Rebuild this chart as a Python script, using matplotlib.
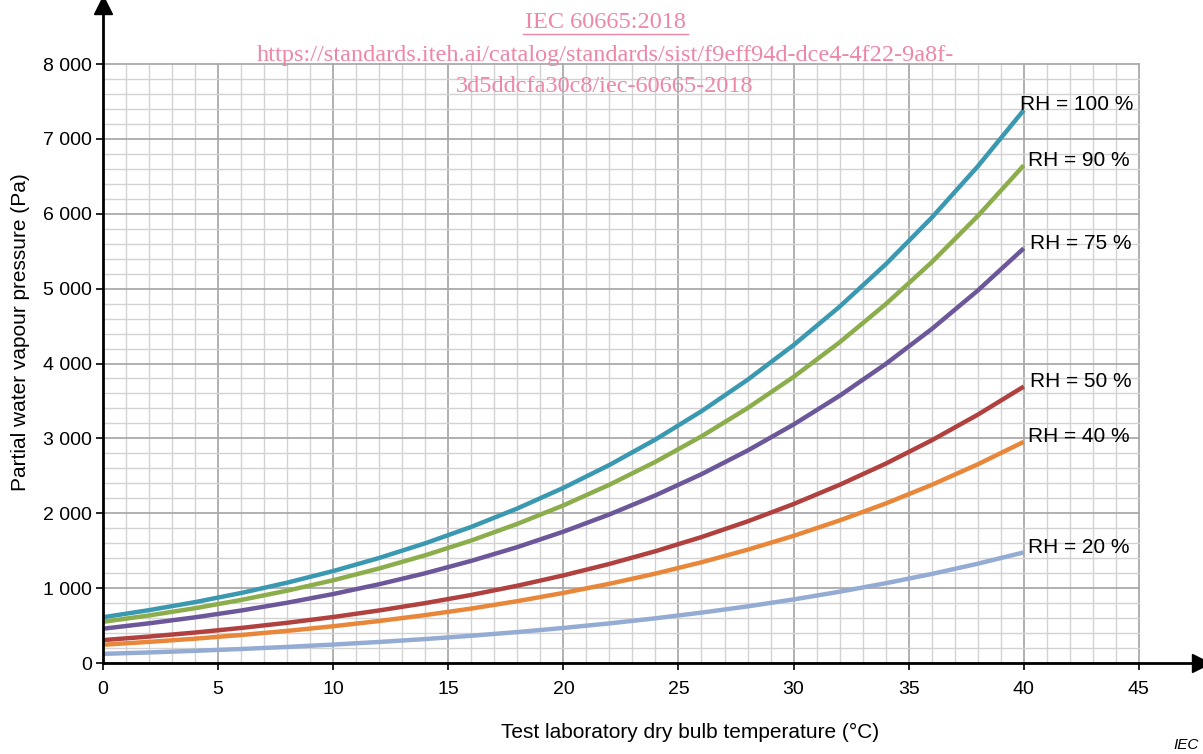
import numpy as np
import matplotlib.pyplot as plt
from matplotlib.ticker import FuncFormatter

# temperature (°C) and partial vapour pressure (Pa)
temp = [0, 2, 4, 6, 8, 10, 12, 14, 16, 18, 20, 22, 24, 26, 28, 30, 32, 34, 36, 38, 40]
rh100 = [611, 706, 813, 935, 1073, 1228, 1403, 1599, 1818, 2064, 2339, 2645, 2985, 3363, 3782, 4246, 4759, 5324, 5947, 6632, 7384]
rh90 = [550, 635, 732, 842, 966, 1105, 1263, 1439, 1636, 1858, 2105, 2381, 2687, 3027, 3404, 3821, 4283, 4792, 5352, 5969, 6646]
rh75 = [458, 530, 610, 701, 805, 921, 1052, 1199, 1364, 1548, 1754, 1984, 2239, 2522, 2837, 3185, 3569, 3993, 4460, 4974, 5538]
rh50 = [306, 353, 407, 468, 537, 614, 702, 800, 909, 1032, 1170, 1323, 1493, 1682, 1891, 2123, 2380, 2662, 2974, 3316, 3692]
rh40 = [244, 282, 325, 374, 429, 491, 561, 640, 727, 826, 936, 1058, 1194, 1345, 1513, 1698, 1904, 2130, 2379, 2653, 2954]
rh20 = [122, 141, 163, 187, 215, 246, 281, 320, 364, 413, 468, 529, 597, 673, 756, 849, 952, 1065, 1189, 1326, 1477]

series = [rh100, rh90, rh75, rh50, rh40, rh20]
labels = ['RH = 100 %', 'RH = 90 %', 'RH = 75 %', 'RH = 50 %', 'RH = 40 %', 'RH = 20 %']
colors = ['#3a98b1', '#8cad4b', '#6b5799', '#b0413f', '#e8873a', '#94abd4']
label_x = [39.85, 40.2, 40.25, 40.25, 40.2, 40.2]

plt.rcParams['font.family'] = ['Liberation Sans', 'DejaVu Sans']

fig = plt.figure(figsize=(12.03, 7.54), dpi=100)
W, H = 1203.0, 754.0
ax = fig.add_axes([103/W, (H-663)/H, (1201-103)/W, (663-5)/H])
ax.set_xlim(0, 47.7)
ax.set_ylim(0, 8788)

# grid, drawn only inside 0..45 / 0..8000
for xv in range(0, 46):
    major = xv % 5 == 0
    ax.plot([xv, xv], [0, 8000], color='#aaaaaa' if major else '#d2d2d2',
            lw=1.3 if major else 1.0, zorder=1)
for yv in range(0, 8001, 200):
    major = yv % 1000 == 0
    ax.plot([0, 45], [yv, yv], color='#aaaaaa' if major else '#d2d2d2',
            lw=1.3 if major else 1.0, zorder=1)

for s, lab, c, lx in zip(series, labels, colors, label_x):
    ax.plot(temp, s, color=c, lw=3.2, zorder=3, solid_capstyle='butt')
    ax.text(lx, s[-1] + 70, lab, fontsize=15, va='center', ha='left', zorder=4)

for sp in ['top', 'right']:
    ax.spines[sp].set_visible(False)
for sp in ['left', 'bottom']:
    ax.spines[sp].set_linewidth(2)
    ax.spines[sp].set_zorder(5)

# arrow heads
ax.plot(1, 0, '>', color='black', markersize=13, transform=ax.transAxes, clip_on=False, zorder=6)
ax.plot(0, 1, '^', color='black', markersize=13, transform=ax.transAxes, clip_on=False, zorder=6)

ax.set_xticks(range(0, 46, 5))
ax.set_yticks(range(0, 8001, 1000))
ax.yaxis.set_major_formatter(FuncFormatter(lambda v, p: '{:,}'.format(int(v)).replace(',', ' ')))
ax.tick_params(labelsize=14, length=5, width=1.2, direction='out')
ax.tick_params(axis='x', pad=8)
ax.tick_params(axis='y', pad=3)

ax.set_xlabel('Test laboratory dry bulb temperature (°C)', fontsize=15)
ax.xaxis.set_label_coords((690 - 103) / 1098, -(723 - 663) / 658)
ax.set_ylabel('Partial water vapour pressure (Pa)', fontsize=15)
ax.yaxis.set_label_coords(-(103 - 30) / 1098, (663 - 332) / 658)

# watermark lines
pink = '#ee86a6'
cx = 605 / W
fig.text(cx, 1 - 22/H, 'IEC 60665:2018', family='Liberation Serif', fontsize=17.5,
         color=pink, ha='center', va='center')
fig.add_artist(plt.Line2D([523/W, 688/W], [1 - 34/H, 1 - 34/H], color=pink, lw=1))
fig.text(cx, 1 - 55/H, 'https://standards.iteh.ai/catalog/standards/sist/f9eff94d-dce4-4f22-9a8f-',
         family='Liberation Serif', fontsize=17.5, color=pink, ha='center', va='center')
fig.text(cx, 1 - 87/H, '3d5ddcfa30c8/iec-60665-2018', family='Liberation Serif', fontsize=17.5,
         color=pink, ha='center', va='center')

fig.text(1186/W, 1 - 745/H, 'IEC', fontsize=11, style='italic', ha='center', va='center')

fig.savefig('out.png', dpi=100)
